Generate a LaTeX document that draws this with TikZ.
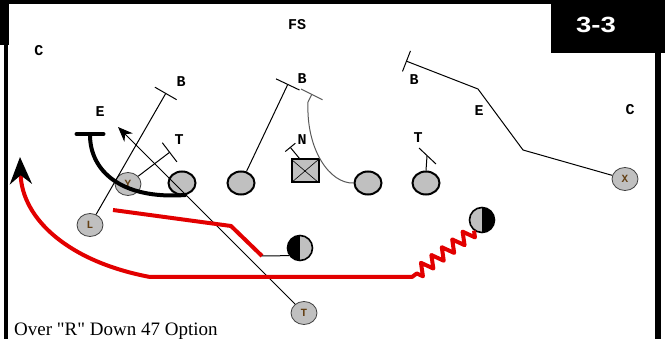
\documentclass[tikz,border=0pt]{standalone}
\usepackage{fontspec}
\setmainfont{Liberation Serif}
\newfontfamily\capfont{Liberation Serif}
\newfontfamily\slabfont{Liberation Mono}
\newfontfamily\tagfont{Liberation Sans}
\usetikzlibrary{arrows.meta,shapes.geometric,decorations.pathmorphing}

\definecolor{playgray}{RGB}{192,192,192}
\definecolor{routered}{RGB}{226,0,0}
\definecolor{tagbrown}{RGB}{100,64,20}

\begin{document}
\begin{tikzpicture}[
  x=1pt, y=-1pt,
  dtext/.style={font=\slabfont\bfseries\fontsize{15}{15}\selectfont, inner sep=0pt},
  lineman/.style={ellipse, draw, line width=2pt, fill=playgray, minimum width=27pt, minimum height=23pt, inner sep=0pt},
  back/.style={ellipse, draw=black!75, line width=0.8pt, fill=playgray, minimum width=26pt, minimum height=23pt, inner sep=0pt,
    font=\slabfont\bfseries\fontsize{11}{11}\selectfont, text=tagbrown},
  split/.style={circle, draw, line width=1.6pt, fill=playgray, minimum size=25pt, inner sep=0pt},
  read/.style={line width=1pt},
  redroute/.style={routered, line width=4pt, line join=round,
    decoration={zigzag, segment length=13pt, amplitude=6pt}}
  ]

  \useasboundingbox (0,0) rectangle (665,339);

  % frame and title box
  \fill (0,0) rectangle (665,4);
  \fill (0,0) rectangle (9,45);
  \fill (4,45) rectangle (8,339);
  \fill (551,0) rectangle (665,53);
  \fill (655,53) rectangle (661,339);
  \node[font=\tagfont\bfseries\fontsize{22}{22}\selectfont, text=white, inner sep=0pt] (title) at (596,25) {\scalebox{1.25}[1]{3-3}};

  % defense
  \node[dtext] (fs) at (297,25) {FS};
  \node[dtext] (cl) at (39,51) {C};
  \node[dtext] (cr) at (630,110) {C};
  \node[dtext] (bl) at (181,82) {B};
  \node[dtext] (bm) at (302,79) {B};
  \node[dtext] (br) at (414,80) {B};
  \node[dtext] (el) at (100,112) {E};
  \node[dtext] (er) at (479,111) {E};
  \node[dtext] (tl) at (179,140) {T};
  \node[dtext] (n)  at (302,140) {N};
  \node[dtext] (tr) at (418,138) {T};

  % offensive line
  \node[lineman] (lt) at (182,183) {};
  \node[lineman] (lg) at (241,183) {};
  \node[rectangle, draw, line width=2pt, fill=playgray, minimum width=27pt, minimum height=23pt,
    path picture={\draw[black, line width=0.6pt] (path picture bounding box.north west) -- (path picture bounding box.south east)
                              (path picture bounding box.south west) -- (path picture bounding box.north east);}] (c) at (305,171) {};
  \node[lineman] (rg) at (368,183) {};
  \node[lineman] (rt) at (426,183) {};

  % backs and receivers
  \node[back] (y) at (128,184) {Y};
  \node[back] (l) at (90,225) {L};
  \node[back] (t) at (304,313) {T};
  \node[back] (x) at (625,179) {X};
  \node[split, path picture={\fill[black] (path picture bounding box.north west) rectangle (path picture bounding box.south);}] (qb) at (300,248) {};
  \node[split, path picture={\fill[black] (path picture bounding box.north east) rectangle (path picture bounding box.south);}] (mo) at (482,220) {};

  % route ends
  \coordinate (bL) at (166,93);
  \coordinate (tL) at (170,152);
  \coordinate (bM) at (288,84);
  \coordinate (bM2) at (312,94);
  \coordinate (nB) at (290,147);
  \coordinate (tR) at (427,156);
  \coordinate (tR1) at (419,148);
  \coordinate (tR2) at (436,164);
  \coordinate (eR1) at (523,150);
  \coordinate (eR2) at (478,89);
  \coordinate (bR) at (406,61);
  \coordinate (tA) at (118,127);
  \coordinate (yB) at (90,132);

  % defenders' reads
  \draw[read, -{Bar[width=25pt]}] (l) -- (bL);
  \draw[read, -{Bar[width=24pt]}] (y) -- (tL);
  \draw[read, -{Bar[width=26pt]}] (lg) -- (bM);
  \draw[read, black!65, -{Bar[width=24pt]}] (rg.west) .. controls (330,184) and (306,150) .. (308,102) -- (bM2);
  \draw[read, -{Bar[width=13pt]}] ([xshift=9pt]c.north west) -- (nB);
  \draw[read] (rt.north) -- (tR);
  \draw[read] (tR1) -- (tR2);
  \draw[read, -{Bar[width=22pt]}] (x) -- (eR1) -- (eR2) -- (bR);

  % blocks and routes
  \draw[read, -{Stealth[length=15pt, width=12pt]}] (t) -- (tA);
  \draw[line width=4pt, -{Bar[width=27pt, round]}] (lt.-70) .. controls (120,200) and (90,170) .. (yB);

  \coordinate (r1a) at (113,210);
  \coordinate (r1b) at (231,226);
  \coordinate (r1c) at (262,256);
  \draw[redroute] (r1a) -- (r1b) -- (r1c);
  \draw[read] (r1c) -- (qb.215);

  \coordinate (zz) at (412,277);
  \coordinate (rc) at (150,277);
  \coordinate (aL) at (20,157);
  \draw[redroute, -{Stealth[color=black, length=27pt, width=22pt]}]
    (mo.233) decorate {-- (zz)} -- (rc) .. controls (70,262) and (22,220) .. (aL);

  \node[anchor=base west, font=\capfont\fontsize{19}{19}\selectfont, inner sep=0pt] (caption) at (14,336) {Over "R" Down 47 Option};

\end{tikzpicture}
\end{document}
